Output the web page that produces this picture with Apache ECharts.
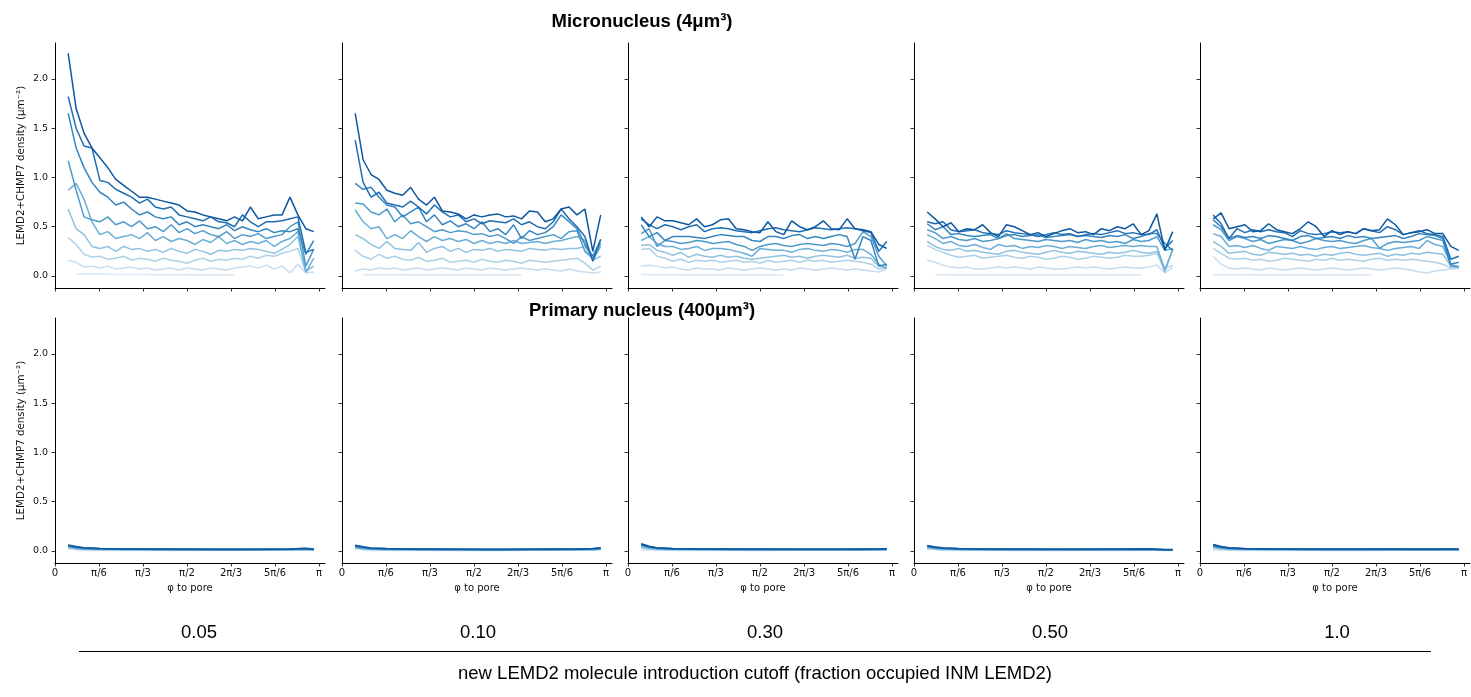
<!DOCTYPE html>
<html>
<head>
<meta charset="utf-8">
<script src="https://cdn.jsdelivr.net/npm/echarts@6/dist/echarts.min.js"></script>
<style>
  html, body { margin: 0; padding: 0; background: #fff; }
  #main { width: 1471px; height: 697px; }
</style>
</head>
<body>
<div id="main"></div>
<script>
// angle to pore, in units of pi
var phiTop = [0.05, 0.08, 0.11, 0.14, 0.17, 0.2, 0.23, 0.26, 0.29, 0.32, 0.35, 0.38, 0.41, 0.44, 0.47, 0.5,
              0.53, 0.56, 0.59, 0.62, 0.65, 0.68, 0.71, 0.74, 0.77, 0.8, 0.83, 0.86, 0.89, 0.92, 0.95, 0.98];
var phiBottom = [0.05, 0.08, 0.11, 0.17, 0.26, 0.35, 0.44, 0.53, 0.62, 0.71, 0.8, 0.89, 0.95, 0.98];

var cutoffs = ['0.05', '0.10', '0.30', '0.50', '1.0'];
var phiTickLabels = ['0', 'π/6', 'π/3', 'π/2', '2π/3', '5π/6', 'π'];
var densityTicks = [0, 0.5, 1.0, 1.5, 2.0];

// micronucleus, lightest line first
var micro005 = [
  [null, 0.02, 0.02, 0.02, 0.02, 0.018, 0.016, 0.015, 0.015, 0.014, 0.014, 0.013, 0.013, 0.012, 0.012, 0.012, 0.011, 0.011, 0.011, 0.01, 0.01, 0.01, null, null, null, null, null, null, null, null, null, null],
  [0.16, 0.14, 0.09, 0.1, 0.08, 0.1, 0.07, 0.08, 0.09, 0.07, 0.08, 0.06, 0.07, 0.08, 0.06, 0.08, 0.07, 0.06, 0.08, 0.07, 0.06, 0.08, 0.09, 0.1, 0.08, 0.11, 0.07, 0.1, 0.03, 0.12, 0.03, 0.04],
  [0.39, 0.32, 0.22, 0.19, 0.2, 0.17, 0.18, 0.2, 0.16, 0.18, 0.17, 0.15, 0.18, 0.16, 0.15, 0.13, 0.16, 0.18, 0.15, 0.17, 0.16, 0.18, 0.17, 0.2, 0.18, 0.21, 0.2, 0.23, 0.25, 0.28, 0.04, 0.1],
  [0.68, 0.48, 0.42, 0.3, 0.28, 0.3, 0.25, 0.3, 0.27, 0.28, 0.25, 0.27, 0.24, 0.28, 0.25, 0.23, 0.27, 0.25, 0.22, 0.26, 0.25, 0.27, 0.26, 0.28, 0.27, 0.25, 0.23, 0.27, 0.32, 0.4, 0.06, 0.1],
  [0.87, 0.94, 0.78, 0.55, 0.42, 0.45, 0.38, 0.4, 0.42, 0.38, 0.44, 0.36, 0.4, 0.35, 0.38, 0.36, 0.32, 0.37, 0.34, 0.4, 0.33, 0.36, 0.32, 0.35, 0.33, 0.36, 0.3, 0.35, 0.38, 0.45, 0.04, 0.18],
  [1.17, 0.87, 0.6, 0.57, 0.55, 0.6, 0.52, 0.55, 0.5, 0.56, 0.48, 0.5, 0.45, 0.52, 0.44, 0.48, 0.43, 0.46, 0.42, 0.4, 0.45, 0.38, 0.42, 0.4, 0.43, 0.38, 0.4, 0.42, 0.5, 0.55, 0.1, 0.27],
  [1.65, 1.3, 1.1, 0.95, 0.85, 0.8, 0.72, 0.75, 0.68, 0.62, 0.65, 0.6, 0.58, 0.6, 0.52, 0.55, 0.5, 0.52, 0.5, 0.48, 0.52, 0.46, 0.5, 0.47, 0.45, 0.48, 0.44, 0.46, 0.45, 0.48, 0.22, 0.36],
  [1.82, 1.5, 1.32, 1.3, 0.97, 0.95, 0.88, 0.84, 0.8, 0.74, 0.78, 0.7, 0.68, 0.7, 0.62, 0.6, 0.58, 0.56, 0.6, 0.55, 0.54, 0.5, 0.62, 0.55, 0.5, 0.55, 0.55, 0.56, 0.58, 0.6, 0.24, 0.27],
  [2.26, 1.7, 1.45, 1.3, 1.2, 1.1, 0.98, 0.92, 0.86, 0.8, 0.8, 0.78, 0.76, 0.74, 0.72, 0.66, 0.65, 0.62, 0.6, 0.58, 0.56, 0.6, 0.56, 0.7, 0.58, 0.6, 0.62, 0.62, 0.8, 0.62, 0.48, 0.45]
];
var micro010 = [
  [null, 0.013, 0.013, 0.012, 0.012, 0.012, 0.012, 0.011, 0.011, 0.011, 0.011, 0.01, 0.01, 0.01, 0.01, 0.01, 0.01, 0.009, 0.009, 0.009, 0.009, 0.009, null, null, null, null, null, null, null, null, null, null],
  [0.05, 0.07, 0.06, 0.08, 0.07, 0.08, 0.06, 0.07, 0.08, 0.06, 0.07, 0.08, 0.07, 0.06, 0.08, 0.07, 0.06, 0.08, 0.07, 0.06, 0.07, 0.08, 0.07, 0.06, 0.07, 0.06, 0.05, 0.07, 0.05, 0.04, 0.03, 0.04],
  [0.26, 0.2, 0.17, 0.22, 0.18, 0.2, 0.17, 0.16, 0.19, 0.15, 0.16, 0.18, 0.14, 0.15, 0.16, 0.14, 0.17, 0.15, 0.14, 0.16, 0.15, 0.13, 0.16, 0.15, 0.14, 0.15, 0.16, 0.17, 0.18, 0.13, 0.06, 0.1],
  [0.42, 0.38, 0.32, 0.28, 0.35, 0.28, 0.27, 0.26, 0.34, 0.24, 0.28, 0.3, 0.25, 0.28, 0.24, 0.27, 0.26, 0.28, 0.25, 0.27, 0.26, 0.25, 0.28, 0.27, 0.26, 0.28, 0.27, 0.28, 0.28, 0.3, 0.16, 0.2],
  [0.67, 0.55, 0.48, 0.5, 0.38, 0.42, 0.38, 0.46, 0.4, 0.35, 0.4, 0.36, 0.38, 0.35, 0.37, 0.33, 0.36, 0.33, 0.35, 0.33, 0.36, 0.33, 0.34, 0.35, 0.33, 0.35, 0.36, 0.38, 0.4, 0.36, 0.16, 0.3],
  [0.74, 0.73, 0.65, 0.62, 0.68, 0.55, 0.62, 0.53, 0.55, 0.5, 0.45, 0.47, 0.44, 0.46, 0.45, 0.42, 0.43, 0.4, 0.42, 0.38, 0.33, 0.4, 0.36, 0.38, 0.4, 0.42, 0.38, 0.45, 0.46, 0.25, 0.18, 0.33],
  [0.94, 0.88, 0.9, 0.8, 0.72, 0.7, 0.6, 0.65, 0.7, 0.55, 0.62, 0.52, 0.56, 0.5, 0.53, 0.48, 0.55, 0.45, 0.48, 0.42, 0.52, 0.38, 0.46, 0.42, 0.44, 0.5, 0.62, 0.55, 0.48, 0.32, 0.2, 0.37],
  [1.38, 0.95, 0.8, 0.85, 0.74, 0.72, 0.7, 0.76, 0.7, 0.63, 0.72, 0.65, 0.6, 0.62, 0.55, 0.58, 0.53, 0.56, 0.55, 0.54, 0.58, 0.52, 0.55, 0.5, 0.48, 0.55, 0.68, 0.58, 0.5, 0.4, 0.15, 0.37],
  [1.65, 1.18, 1.03, 0.98, 0.87, 0.84, 0.82, 0.9, 0.78, 0.72, 0.8, 0.66, 0.65, 0.63, 0.58, 0.62, 0.6, 0.62, 0.63, 0.6, 0.61, 0.58, 0.66, 0.65, 0.55, 0.58, 0.68, 0.7, 0.62, 0.68, 0.25, 0.62]
];
var micro030 = [
  [0.014, 0.013, 0.013, 0.012, 0.012, 0.012, 0.011, 0.011, 0.011, 0.011, 0.01, 0.01, 0.01, 0.01, 0.01, 0.01, 0.009, 0.009, 0.009, null, null, null, null, null, null, null, null, null, null, null, null, null],
  [0.1, 0.11, 0.1, 0.08, 0.09, 0.07, 0.06, 0.08, 0.07, 0.07, 0.06, 0.08, 0.07, 0.06, 0.07, 0.08, 0.07, 0.06, 0.07, 0.06, 0.08, 0.07, 0.06, 0.07, 0.08, 0.07, 0.06, 0.07, 0.06, 0.05, 0.04, 0.07],
  [0.27, 0.28, 0.2, 0.18, 0.15, 0.17, 0.14, 0.16, 0.15, 0.16, 0.14, 0.15, 0.16, 0.14, 0.15, 0.13, 0.16, 0.14, 0.15, 0.16, 0.14, 0.16, 0.15, 0.16, 0.14, 0.15, 0.16, 0.15, 0.14, 0.12, 0.07, 0.08],
  [0.31, 0.32, 0.26, 0.24, 0.21, 0.24, 0.19, 0.22, 0.2, 0.19, 0.21, 0.19, 0.2, 0.18, 0.17, 0.18, 0.19, 0.2, 0.21, 0.19, 0.2, 0.18, 0.2, 0.21, 0.2, 0.19, 0.21, 0.18, 0.19, 0.18, 0.1, 0.08],
  [0.36, 0.4, 0.33, 0.3, 0.3, 0.27, 0.28, 0.3, 0.26, 0.28, 0.28, 0.27, 0.25, 0.23, 0.2, 0.28, 0.27, 0.26, 0.26, 0.24, 0.27, 0.28, 0.26, 0.25, 0.27, 0.26, 0.24, 0.27, 0.27, 0.22, 0.12, 0.08],
  [0.43, 0.48, 0.3, 0.36, 0.35, 0.33, 0.34, 0.36, 0.35, 0.33, 0.34, 0.35, 0.32, 0.3, 0.26, 0.3, 0.32, 0.33, 0.31, 0.3, 0.32, 0.33, 0.32, 0.31, 0.33, 0.32, 0.3, 0.33, 0.45, 0.4, 0.2, 0.1],
  [0.52, 0.4, 0.44, 0.36, 0.4, 0.4, 0.4, 0.39, 0.38, 0.4, 0.42, 0.41, 0.4, 0.4, 0.36, 0.35, 0.4, 0.4, 0.38, 0.41, 0.42, 0.38, 0.4, 0.38, 0.4, 0.42, 0.4, 0.17, 0.4, 0.36, 0.1, 0.12],
  [0.58, 0.52, 0.48, 0.52, 0.5, 0.47, 0.5, 0.52, 0.45, 0.48, 0.49, 0.48, 0.46, 0.45, 0.44, 0.46, 0.48, 0.49, 0.47, 0.46, 0.45, 0.47, 0.49, 0.48, 0.47, 0.48, 0.49, 0.48, 0.46, 0.44, 0.25, 0.35],
  [0.6, 0.5, 0.6, 0.56, 0.56, 0.54, 0.52, 0.58, 0.5, 0.52, 0.57, 0.58, 0.48, 0.47, 0.45, 0.44, 0.55, 0.45, 0.42, 0.56, 0.5, 0.47, 0.5, 0.56, 0.48, 0.47, 0.58, 0.48, 0.47, 0.45, 0.32, 0.28]
];
var micro050 = [
  [null, 0.012, 0.012, 0.012, 0.011, 0.011, 0.011, 0.011, 0.011, 0.01, 0.01, 0.01, 0.01, 0.01, 0.01, 0.01, 0.01, 0.01, 0.01, 0.01, 0.01, 0.01, 0.01, 0.01, 0.01, 0.01, 0.01, 0.01, null, null, null, null],
  [0.16, 0.14, 0.11, 0.09, 0.08, 0.09, 0.07, 0.07, 0.08, 0.09, 0.08, 0.09, 0.08, 0.07, 0.09, 0.08, 0.07, 0.07, 0.08, 0.09, 0.08, 0.09, 0.08, 0.07, 0.08, 0.09, 0.08, 0.08, 0.09, 0.11, 0.03, 0.09],
  [0.31, 0.27, 0.24, 0.21, 0.19, 0.2, 0.21, 0.18, 0.19, 0.2, 0.21, 0.19, 0.18, 0.2, 0.19, 0.17, 0.18, 0.2, 0.19, 0.17, 0.18, 0.2, 0.19, 0.18, 0.19, 0.21, 0.2, 0.2, 0.21, 0.23, 0.08, 0.11],
  [0.35, 0.3, 0.27, 0.26, 0.28, 0.25, 0.26, 0.24, 0.23, 0.22, 0.25, 0.26, 0.24, 0.23, 0.22, 0.24, 0.26, 0.24, 0.23, 0.25, 0.24, 0.23, 0.22, 0.24, 0.23, 0.24, 0.26, 0.24, 0.23, 0.25, 0.04, 0.27],
  [0.42, 0.38, 0.33, 0.35, 0.31, 0.3, 0.32, 0.29, 0.27, 0.32, 0.3, 0.31, 0.28, 0.3, 0.29, 0.31, 0.3, 0.28, 0.3, 0.29, 0.28, 0.3, 0.31, 0.29, 0.3, 0.31, 0.3, 0.31, 0.3, 0.3, 0.06, 0.27],
  [0.47, 0.44, 0.38, 0.4, 0.37, 0.36, 0.38, 0.35, 0.36, 0.38, 0.43, 0.38, 0.37, 0.36, 0.35, 0.37, 0.36, 0.35, 0.36, 0.34, 0.37, 0.35, 0.36, 0.34, 0.35, 0.33, 0.37, 0.35, 0.36, 0.4, 0.26, 0.28],
  [0.53, 0.47, 0.5, 0.42, 0.43, 0.41, 0.4, 0.41, 0.42, 0.38, 0.41, 0.42, 0.4, 0.41, 0.42, 0.39, 0.4, 0.41, 0.42, 0.4, 0.41, 0.4, 0.39, 0.41, 0.4, 0.42, 0.38, 0.4, 0.43, 0.43, 0.33, 0.26],
  [0.55, 0.53, 0.55, 0.47, 0.45, 0.46, 0.47, 0.44, 0.43, 0.42, 0.46, 0.44, 0.43, 0.42, 0.4, 0.42, 0.44, 0.42, 0.43, 0.4, 0.42, 0.43, 0.42, 0.44, 0.46, 0.43, 0.44, 0.42, 0.42, 0.47, 0.28, 0.36],
  [0.65, 0.58, 0.5, 0.54, 0.45, 0.48, 0.47, 0.52, 0.44, 0.4, 0.52, 0.5, 0.46, 0.42, 0.44, 0.4, 0.43, 0.46, 0.48, 0.44, 0.45, 0.42, 0.48, 0.46, 0.5, 0.48, 0.53, 0.42, 0.46, 0.63, 0.26, 0.45]
];
var micro100 = [
  [0.013, 0.013, 0.012, 0.012, 0.012, 0.012, 0.011, 0.011, 0.011, 0.011, 0.011, 0.01, 0.01, 0.01, 0.01, 0.01, 0.01, 0.01, 0.01, 0.01, 0.01, null, null, null, null, null, null, null, null, null, null, null],
  [0.2, 0.12, 0.08, 0.07, 0.08, 0.07, 0.06, 0.08, 0.07, 0.06, 0.07, 0.08, 0.07, 0.06, 0.07, 0.08, 0.07, 0.06, 0.07, 0.08, 0.07, 0.06, 0.07, 0.08, 0.07, 0.06, 0.04, 0.03, 0.05, 0.06, 0.07, 0.08],
  [0.28, 0.23, 0.18, 0.17, 0.18, 0.16, 0.17, 0.15, 0.16, 0.18, 0.17, 0.16, 0.15, 0.17, 0.16, 0.18, 0.16, 0.17, 0.16, 0.15, 0.17, 0.18, 0.16, 0.17, 0.16, 0.17, 0.16, 0.15, 0.14, 0.12, 0.08, 0.08],
  [0.35, 0.3, 0.23, 0.24, 0.25, 0.22, 0.21, 0.24, 0.23, 0.22, 0.23, 0.21, 0.22, 0.2, 0.22, 0.21, 0.23, 0.24, 0.22, 0.21, 0.22, 0.23, 0.2, 0.22, 0.21, 0.23, 0.22, 0.24, 0.23, 0.22, 0.1, 0.08],
  [0.43, 0.4, 0.3, 0.31, 0.29, 0.31, 0.28, 0.26, 0.3, 0.29, 0.28, 0.3, 0.28, 0.27, 0.29, 0.3, 0.28, 0.29, 0.3, 0.31, 0.29, 0.28, 0.26, 0.28, 0.29, 0.3, 0.28, 0.36, 0.32, 0.3, 0.12, 0.09],
  [0.52, 0.47, 0.36, 0.4, 0.38, 0.35, 0.37, 0.33, 0.35, 0.37, 0.36, 0.33, 0.35, 0.38, 0.36, 0.35, 0.36, 0.34, 0.33, 0.36, 0.38, 0.28, 0.33, 0.35, 0.34, 0.35, 0.36, 0.4, 0.38, 0.36, 0.1, 0.1],
  [0.57, 0.5, 0.38, 0.41, 0.39, 0.4, 0.38, 0.41, 0.4, 0.38, 0.36, 0.4, 0.41, 0.38, 0.39, 0.4, 0.38, 0.41, 0.39, 0.4, 0.38, 0.39, 0.4, 0.41, 0.38, 0.4, 0.43, 0.42, 0.41, 0.38, 0.12, 0.14],
  [0.62, 0.53, 0.38, 0.48, 0.44, 0.47, 0.45, 0.47, 0.45, 0.44, 0.4, 0.46, 0.43, 0.42, 0.43, 0.45, 0.44, 0.45, 0.43, 0.48, 0.46, 0.44, 0.5, 0.47, 0.42, 0.44, 0.46, 0.43, 0.42, 0.4, 0.17, 0.2],
  [0.58, 0.64, 0.48, 0.5, 0.52, 0.45, 0.46, 0.53, 0.47, 0.45, 0.43, 0.48, 0.55, 0.5, 0.4, 0.46, 0.42, 0.45, 0.43, 0.48, 0.46, 0.47, 0.58, 0.52, 0.42, 0.44, 0.45, 0.47, 0.43, 0.43, 0.3, 0.26]
];

// primary nucleus, lightest line first
var primary005 = [
  [null, 0.008, 0.006, 0.005, 0.004, 0.004, 0.004, 0.004, 0.004, 0.004, null, null, null, null],
  [0.022, 0.015, 0.011, 0.009, 0.008, 0.007, 0.007, 0.007, 0.007, 0.007, 0.007, 0.008, 0.01, 0.007],
  [0.03, 0.02, 0.015, 0.012, 0.011, 0.01, 0.009, 0.009, 0.009, 0.009, 0.01, 0.011, 0.013, 0.009],
  [0.036, 0.024, 0.018, 0.015, 0.013, 0.012, 0.011, 0.011, 0.011, 0.011, 0.012, 0.013, 0.016, 0.011],
  [0.042, 0.028, 0.021, 0.017, 0.015, 0.014, 0.013, 0.013, 0.012, 0.012, 0.013, 0.014, 0.018, 0.012],
  [0.047, 0.032, 0.024, 0.02, 0.017, 0.015, 0.015, 0.014, 0.014, 0.014, 0.015, 0.016, 0.02, 0.014],
  [0.052, 0.036, 0.027, 0.022, 0.019, 0.017, 0.016, 0.016, 0.015, 0.015, 0.016, 0.018, 0.022, 0.016],
  [0.057, 0.04, 0.03, 0.024, 0.02, 0.018, 0.018, 0.017, 0.016, 0.016, 0.017, 0.019, 0.025, 0.018],
  [0.062, 0.045, 0.032, 0.026, 0.022, 0.02, 0.019, 0.018, 0.018, 0.017, 0.018, 0.02, 0.028, 0.02]
];
var primary010 = [
  [null, 0.007, 0.006, 0.005, 0.004, 0.004, 0.004, 0.004, 0.004, 0.004, null, null, null, null],
  [0.02, 0.014, 0.01, 0.008, 0.007, 0.007, 0.006, 0.006, 0.006, 0.007, 0.007, 0.007, 0.009, 0.01],
  [0.027, 0.019, 0.014, 0.011, 0.01, 0.009, 0.009, 0.008, 0.009, 0.009, 0.009, 0.01, 0.012, 0.014],
  [0.033, 0.023, 0.017, 0.014, 0.012, 0.011, 0.011, 0.01, 0.01, 0.011, 0.011, 0.012, 0.014, 0.018],
  [0.038, 0.027, 0.02, 0.016, 0.014, 0.013, 0.012, 0.012, 0.012, 0.012, 0.013, 0.014, 0.016, 0.021],
  [0.043, 0.03, 0.022, 0.018, 0.016, 0.015, 0.014, 0.013, 0.013, 0.014, 0.014, 0.015, 0.018, 0.024],
  [0.048, 0.034, 0.025, 0.02, 0.018, 0.016, 0.015, 0.015, 0.015, 0.015, 0.016, 0.017, 0.02, 0.027],
  [0.053, 0.038, 0.028, 0.022, 0.019, 0.018, 0.017, 0.016, 0.016, 0.017, 0.017, 0.018, 0.022, 0.03],
  [0.058, 0.042, 0.031, 0.025, 0.021, 0.019, 0.018, 0.018, 0.017, 0.018, 0.019, 0.02, 0.024, 0.033]
];
var primary030 = [
  [0.009, 0.007, 0.006, 0.005, 0.004, 0.004, 0.004, 0.004, 0.004, null, null, null, null, null],
  [0.025, 0.016, 0.012, 0.009, 0.008, 0.007, 0.007, 0.007, 0.007, 0.007, 0.007, 0.007, 0.007, 0.008],
  [0.035, 0.022, 0.016, 0.012, 0.011, 0.01, 0.009, 0.009, 0.009, 0.009, 0.009, 0.009, 0.01, 0.011],
  [0.043, 0.027, 0.019, 0.015, 0.013, 0.012, 0.011, 0.011, 0.011, 0.011, 0.011, 0.011, 0.012, 0.013],
  [0.05, 0.031, 0.022, 0.017, 0.015, 0.014, 0.013, 0.013, 0.012, 0.013, 0.012, 0.013, 0.014, 0.015],
  [0.057, 0.036, 0.025, 0.019, 0.017, 0.016, 0.015, 0.014, 0.014, 0.014, 0.014, 0.014, 0.016, 0.017],
  [0.063, 0.04, 0.028, 0.021, 0.019, 0.017, 0.016, 0.016, 0.015, 0.016, 0.015, 0.016, 0.017, 0.019],
  [0.069, 0.044, 0.031, 0.023, 0.02, 0.019, 0.018, 0.017, 0.017, 0.017, 0.017, 0.017, 0.019, 0.021],
  [0.075, 0.048, 0.034, 0.025, 0.022, 0.02, 0.019, 0.019, 0.018, 0.018, 0.018, 0.019, 0.02, 0.023]
];
var primary050 = [
  [null, 0.007, 0.006, 0.005, 0.004, 0.004, 0.004, 0.004, 0.004, 0.004, 0.004, 0.004, null, null],
  [0.019, 0.014, 0.011, 0.008, 0.007, 0.007, 0.007, 0.006, 0.007, 0.007, 0.007, 0.007, 0.006, 0.005],
  [0.026, 0.019, 0.015, 0.011, 0.01, 0.009, 0.009, 0.009, 0.009, 0.009, 0.009, 0.01, 0.008, 0.007],
  [0.032, 0.023, 0.018, 0.014, 0.012, 0.011, 0.011, 0.011, 0.011, 0.011, 0.011, 0.012, 0.009, 0.008],
  [0.037, 0.027, 0.021, 0.016, 0.014, 0.013, 0.013, 0.012, 0.012, 0.013, 0.013, 0.014, 0.01, 0.01],
  [0.042, 0.03, 0.024, 0.018, 0.016, 0.015, 0.014, 0.014, 0.014, 0.014, 0.015, 0.016, 0.011, 0.011],
  [0.047, 0.034, 0.026, 0.02, 0.018, 0.016, 0.016, 0.015, 0.015, 0.016, 0.016, 0.018, 0.012, 0.012],
  [0.051, 0.037, 0.029, 0.022, 0.019, 0.018, 0.017, 0.017, 0.017, 0.017, 0.018, 0.02, 0.013, 0.013],
  [0.055, 0.041, 0.032, 0.024, 0.021, 0.019, 0.019, 0.018, 0.018, 0.019, 0.019, 0.022, 0.014, 0.014]
];
var primary100 = [
  [0.009, 0.007, 0.006, 0.005, 0.004, 0.004, 0.004, 0.004, 0.004, 0.004, null, null, null, null],
  [0.022, 0.015, 0.011, 0.009, 0.008, 0.007, 0.007, 0.007, 0.007, 0.007, 0.007, 0.007, 0.007, 0.006],
  [0.03, 0.02, 0.015, 0.012, 0.011, 0.01, 0.009, 0.009, 0.009, 0.01, 0.009, 0.009, 0.009, 0.008],
  [0.037, 0.025, 0.018, 0.015, 0.013, 0.012, 0.011, 0.011, 0.011, 0.012, 0.011, 0.011, 0.011, 0.01],
  [0.043, 0.029, 0.021, 0.017, 0.015, 0.014, 0.013, 0.013, 0.013, 0.014, 0.013, 0.013, 0.013, 0.012],
  [0.049, 0.033, 0.024, 0.019, 0.017, 0.015, 0.015, 0.015, 0.014, 0.015, 0.015, 0.015, 0.015, 0.014],
  [0.055, 0.037, 0.027, 0.021, 0.019, 0.017, 0.016, 0.016, 0.016, 0.017, 0.016, 0.016, 0.017, 0.016],
  [0.06, 0.041, 0.03, 0.023, 0.02, 0.019, 0.018, 0.018, 0.017, 0.018, 0.018, 0.018, 0.019, 0.017],
  [0.066, 0.045, 0.033, 0.025, 0.022, 0.02, 0.019, 0.019, 0.019, 0.02, 0.019, 0.019, 0.021, 0.019]
];

var blues = ['#d9e8f5', '#c8dcf0', '#aed1e7', '#8fc2de', '#6baed6', '#4e9acb', '#3585bf', '#1f6eb3', '#0d57a1'];

var PI = Math.PI;
var colLeft = [55, 342, 628, 914, 1200];
var rowTop = [43, 318];
var rows = [
  { phi: phiTop, panels: [micro005, micro010, micro030, micro050, micro100] },
  { phi: phiBottom, panels: [primary005, primary010, primary030, primary050, primary100] }
];
var phiTicks = phiTickLabels.map(function (s, i) { return i * PI / 6; });
var font = 'DejaVu Sans';
var sans = '"Liberation Sans", Arial, sans-serif';

var grids = [], xAxes = [], yAxes = [], series = [];

rows.forEach(function (row, r) {
  row.panels.forEach(function (lines, c) {
    var idx = grids.length;
    grids.push({ left: colLeft[c], top: rowTop[r], width: 270, height: 245 });
    xAxes.push({
      type: 'value', gridIndex: idx, min: 0, max: PI * 270 / 264,
      axisLine: { show: true, onZero: false, lineStyle: { color: '#000', width: 1 } },
      axisTick: { show: true, customValues: phiTicks, length: 3.5, lineStyle: { color: '#000', width: 0.8 } },
      axisLabel: {
        show: r === 1, customValues: phiTicks, fontSize: 10, fontFamily: font, color: '#111', margin: 5,
        formatter: function (v) { return phiTickLabels[Math.round(v / (PI / 6))]; }
      },
      splitLine: { show: false },
      name: r === 1 ? 'φ to pore' : '',
      nameLocation: 'middle', nameGap: 20,
      nameTextStyle: { fontSize: 10, fontFamily: font, color: '#111' }
    });
    yAxes.push({
      type: 'value', gridIndex: idx, min: -0.122, max: 2.365,
      axisLine: { show: true, onZero: false, lineStyle: { color: '#000', width: 1 } },
      axisTick: { show: true, customValues: densityTicks, length: 3.5, lineStyle: { color: '#000', width: 0.8 } },
      axisLabel: {
        show: c === 0, customValues: densityTicks, fontSize: 9.5, fontFamily: font, color: '#111', margin: 7,
        formatter: function (v) { return v.toFixed(1); }
      },
      splitLine: { show: false },
      name: c === 0 ? 'LEMD2+CHMP7 density (μm⁻²)' : '',
      nameLocation: 'middle', nameRotate: 90, nameGap: 29,
      nameTextStyle: { fontSize: 10.3, fontFamily: font, color: '#111' }
    });
    lines.forEach(function (vals, j) {
      var pts = [];
      vals.forEach(function (v, i) { if (v !== null) pts.push([row.phi[i] * PI, v]); });
      series.push({
        type: 'line', xAxisIndex: idx, yAxisIndex: idx, data: pts,
        symbol: 'none', silent: true,
        lineStyle: { width: 1.5, color: blues[j] }, itemStyle: { color: blues[j] }
      });
    });
  });
});

var graphics = [
  { type: 'text', x: 642, y: 22, style: { text: 'Micronucleus (4μm³)', font: 'bold 18.5px ' + sans, fill: '#000', align: 'center', verticalAlign: 'middle' } },
  { type: 'text', x: 642, y: 311, style: { text: 'Primary nucleus (400μm³)', font: 'bold 18.5px ' + sans, fill: '#000', align: 'center', verticalAlign: 'middle' } },
  { type: 'line', shape: { x1: 79, y1: 651.5, x2: 1431, y2: 651.5 }, style: { stroke: '#000', lineWidth: 1 } },
  { type: 'text', x: 755, y: 674, style: { text: 'new LEMD2 molecule introduction cutoff (fraction occupied INM LEMD2)', font: '18.5px ' + sans, fill: '#000', align: 'center', verticalAlign: 'middle' } }
];
var cutoffX = [199, 478, 765, 1050, 1337];
cutoffs.forEach(function (t, i) {
  graphics.push({ type: 'text', x: cutoffX[i], y: 633, style: { text: t, font: '18.5px ' + sans, fill: '#000', align: 'center', verticalAlign: 'middle' } });
});

var myChart = echarts.init(document.getElementById('main'));
myChart.setOption({
  animation: false,
  backgroundColor: '#fff',
  grid: grids,
  xAxis: xAxes,
  yAxis: yAxes,
  series: series,
  graphic: graphics
});
</script>
</body>
</html>
